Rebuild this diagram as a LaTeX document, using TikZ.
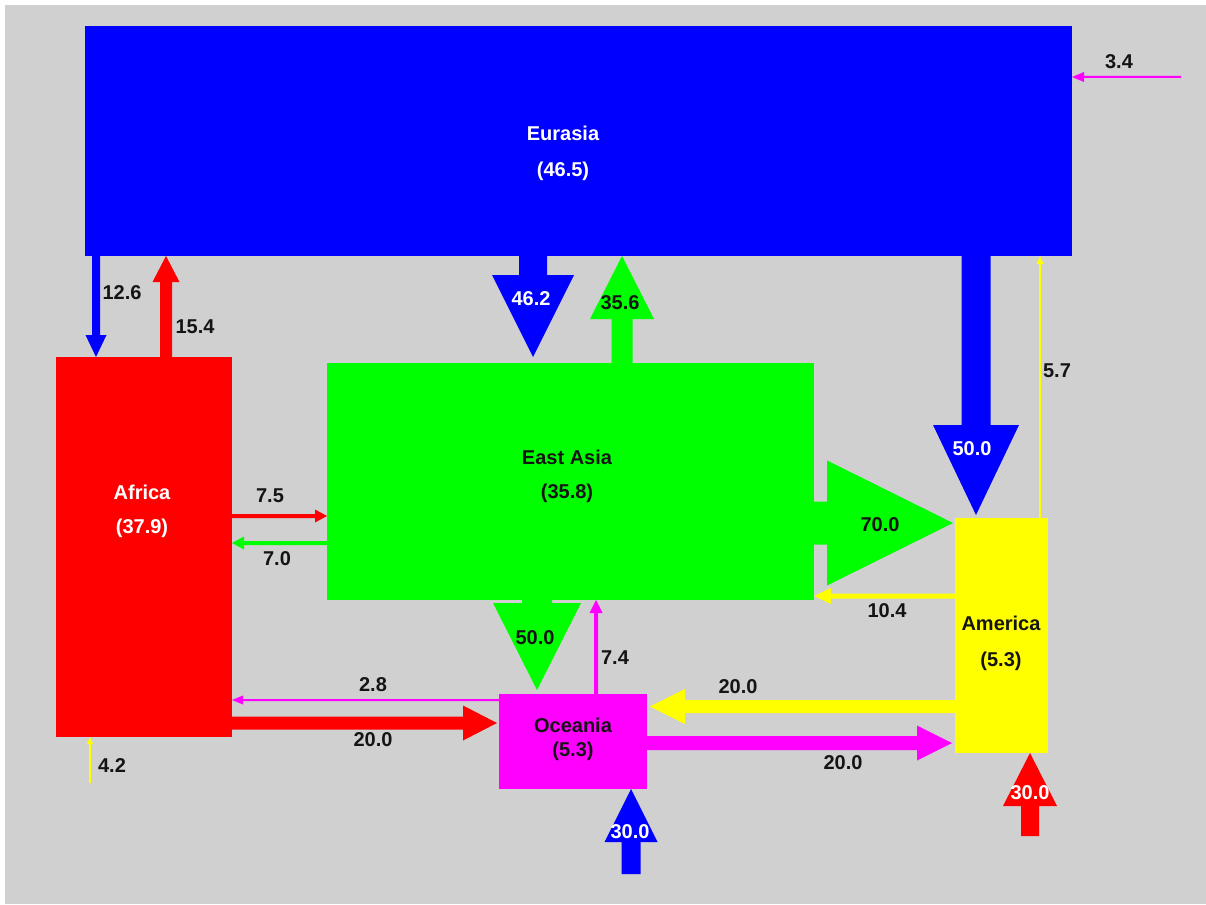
\documentclass[tikz,border=0pt]{standalone}
\usepackage{fontspec}
\setmainfont{Liberation Sans}
\usetikzlibrary{calc}
\definecolor{bg}{RGB}{208,208,208}
\definecolor{ink}{RGB}{20,20,20}
\definecolor{cblue}{RGB}{0,0,255}
\definecolor{cred}{RGB}{255,0,0}
\definecolor{cgreen}{RGB}{0,255,0}
\definecolor{cyellow}{RGB}{255,255,0}
\definecolor{cmag}{RGB}{255,0,255}
% #1 colour, #2 start, #3 tip, #4 shaft half width, #5 head half width, #6 head length
\newcommand{\fatarrow}[6]{%
  \fill[#1] let \p1=(#2), \p2=(#3),
    \n1={veclen(\x2-\x1,\y2-\y1)}, \n2={atan2(\y2-\y1,\x2-\x1)} in
    ($(\p1)+(\n2+90:#4pt)$) --
    ($(\p1)+(\n2:\n1-#6pt)+(\n2+90:#4pt)$) --
    ($(\p1)+(\n2:\n1-#6pt)+(\n2+90:#5pt)$) --
    (\p2) --
    ($(\p1)+(\n2:\n1-#6pt)+(\n2-90:#5pt)$) --
    ($(\p1)+(\n2:\n1-#6pt)+(\n2-90:#4pt)$) --
    ($(\p1)+(\n2-90:#4pt)$) -- cycle;}
\begin{document}
\begin{tikzpicture}[x=1pt,y=-1pt,
  region/.style={inner sep=0pt, outer sep=0pt, draw=none},
  lbl/.style={font=\fontsize{20}{21}\selectfont\bfseries, text=ink, inner sep=0pt},
  wlbl/.style={lbl, text=white}]
\useasboundingbox (0,0) rectangle (1206,904);
\fill[white] (0,0) rectangle (1206,904);
\fill[bg] (5,5) rectangle (1206,904);

% regions
\node[region, fill=cblue, minimum width=987pt, minimum height=230pt] (eurasia) at (578.5,141) {};
\node[region, fill=cred, minimum width=176pt, minimum height=380pt] (africa) at (144,547) {};
\node[region, fill=cgreen, minimum width=487pt, minimum height=237pt] (eastasia) at (570.5,481.5) {};
\node[region, fill=cyellow, minimum width=93pt, minimum height=235pt] (america) at (1001.5,635.5) {};
\node[region, fill=cmag, minimum width=148pt, minimum height=95pt] (oceania) at (573,741.5) {};

% positions of connectors
\coordinate (x126) at (96,0);
\coordinate (x154) at (166,0);
\coordinate (x462) at (533,0);
\coordinate (x356) at (622,0);
\coordinate (x500a) at (976,0);
\coordinate (x57) at (1040,0);
\coordinate (x500b) at (537,0);
\coordinate (x74) at (596,0);
\coordinate (x42) at (90,0);
\coordinate (x30o) at (631,0);
\coordinate (x30a) at (1030,0);
\coordinate (y34) at (0,77);
\coordinate (y700) at (0,523);
\coordinate (y104) at (0,596);
\coordinate (y75) at (0,516);
\coordinate (y70) at (0,543);
\coordinate (y28) at (0,700);
\coordinate (y200r) at (0,723);
\coordinate (y200y) at (0,706.5);
\coordinate (y200m) at (0,743);
\coordinate (in34) at (1181,77);
\coordinate (in42) at (90,783);
\coordinate (in30o) at (631,874);
\coordinate (in30a) at (1030,836);

% connectors
\fatarrow{cblue}{eurasia.south -| x126}{africa.north -| x126}{4}{10.5}{22}
\fatarrow{cred}{africa.north -| x154}{eurasia.south -| x154}{6}{13.5}{26}
\fatarrow{cblue}{eurasia.south -| x462}{$(eastasia.north -| x462)+(0,-6)$}{14}{41}{82}
\fatarrow{cgreen}{eastasia.north -| x356}{eurasia.south -| x356}{10.5}{32}{63}
\fatarrow{cblue}{eurasia.south -| x500a}{$(america.north -| x500a)+(0,-3)$}{14.5}{43}{90}
\fatarrow{cyellow}{america.north -| x57}{eurasia.south -| x57}{1}{3.5}{8}
\fatarrow{cmag}{in34}{eurasia.east |- y34}{1}{5}{12}
\fatarrow{cgreen}{eastasia.east |- y700}{$(america.west |- y700)+(-2,0)$}{21.5}{62.5}{126}
\fatarrow{cyellow}{america.west |- y104}{eastasia.east |- y104}{2.5}{8}{17}
\fatarrow{cred}{africa.east |- y75}{eastasia.west |- y75}{2}{6.5}{12}
\fatarrow{cgreen}{eastasia.west |- y70}{africa.east |- y70}{2}{6.5}{12}
\fatarrow{cgreen}{eastasia.south -| x500b}{$(oceania.north -| x500b)+(0,-4)$}{15}{44}{87}
\fatarrow{cmag}{oceania.north -| x74}{eastasia.south -| x74}{2}{6.5}{13}
\fatarrow{cmag}{oceania.west |- y28}{africa.east |- y28}{1}{4.5}{11}
\fatarrow{cred}{africa.east |- y200r}{$(oceania.west |- y200r)+(-2,0)$}{6.5}{17.5}{34}
\fatarrow{cyellow}{america.west |- y200y}{$(oceania.east |- y200y)+(3,0)$}{6.5}{17.5}{35}
\fatarrow{cmag}{oceania.east |- y200m}{$(america.west |- y200m)+(-3,0)$}{7}{17.5}{35}
\fatarrow{cyellow}{in42}{africa.south -| x42}{1}{3}{7}
\fatarrow{cblue}{in30o}{oceania.south -| x30o}{9.5}{26.5}{53}
\fatarrow{cred}{in30a}{america.south -| x30a}{9}{27}{53}

% region labels
\node[wlbl] (eurasiaN) at (563,133) {Eurasia};
\node[wlbl] (eurasiaV) at (563,171) {(46.5)};
\node[wlbl] (africaN) at (142,492) {Africa};
\node[wlbl] (africaV) at (142,528) {(37.9)};
\node[lbl] (eastasiaN) at (567,457) {East Asia};
\node[lbl] (eastasiaV) at (567,493) {(35.8)};
\node[lbl] (americaN) at (1001,623) {America};
\node[lbl] (americaV) at (1001,661) {(5.3)};
\node[lbl] (oceaniaN) at (573,725) {Oceania};
\node[lbl] (oceaniaV) at (573,751) {(5.3)};

% flow labels
\node[lbl] (l34) at (1119,62) {3.4};
\node[lbl] (l126) at (122,293) {12.6};
\node[lbl] (l154) at (195,327) {15.4};
\node[wlbl] (l462) at (531,299) {46.2};
\node[lbl] (l356) at (620,303) {35.6};
\node[wlbl] (l500a) at (972,449) {50.0};
\node[lbl] (l57) at (1057,371) {5.7};
\node[lbl] (l700) at (880,525) {70.0};
\node[lbl] (l104) at (887,611) {10.4};
\node[lbl] (l75) at (270,496) {7.5};
\node[lbl] (l70) at (277,559) {7.0};
\node[lbl] (l500b) at (535,638) {50.0};
\node[lbl] (l74) at (615,658) {7.4};
\node[lbl] (l28) at (373,685) {2.8};
\node[lbl] (l200r) at (373,740) {20.0};
\node[lbl] (l200y) at (738,687) {20.0};
\node[lbl] (l200m) at (843,763) {20.0};
\node[lbl] (l42) at (112,766) {4.2};
\node[wlbl] (l30o) at (630,832) {30.0};
\node[wlbl] (l30a) at (1030,793) {30.0};
\end{tikzpicture}
\end{document}
